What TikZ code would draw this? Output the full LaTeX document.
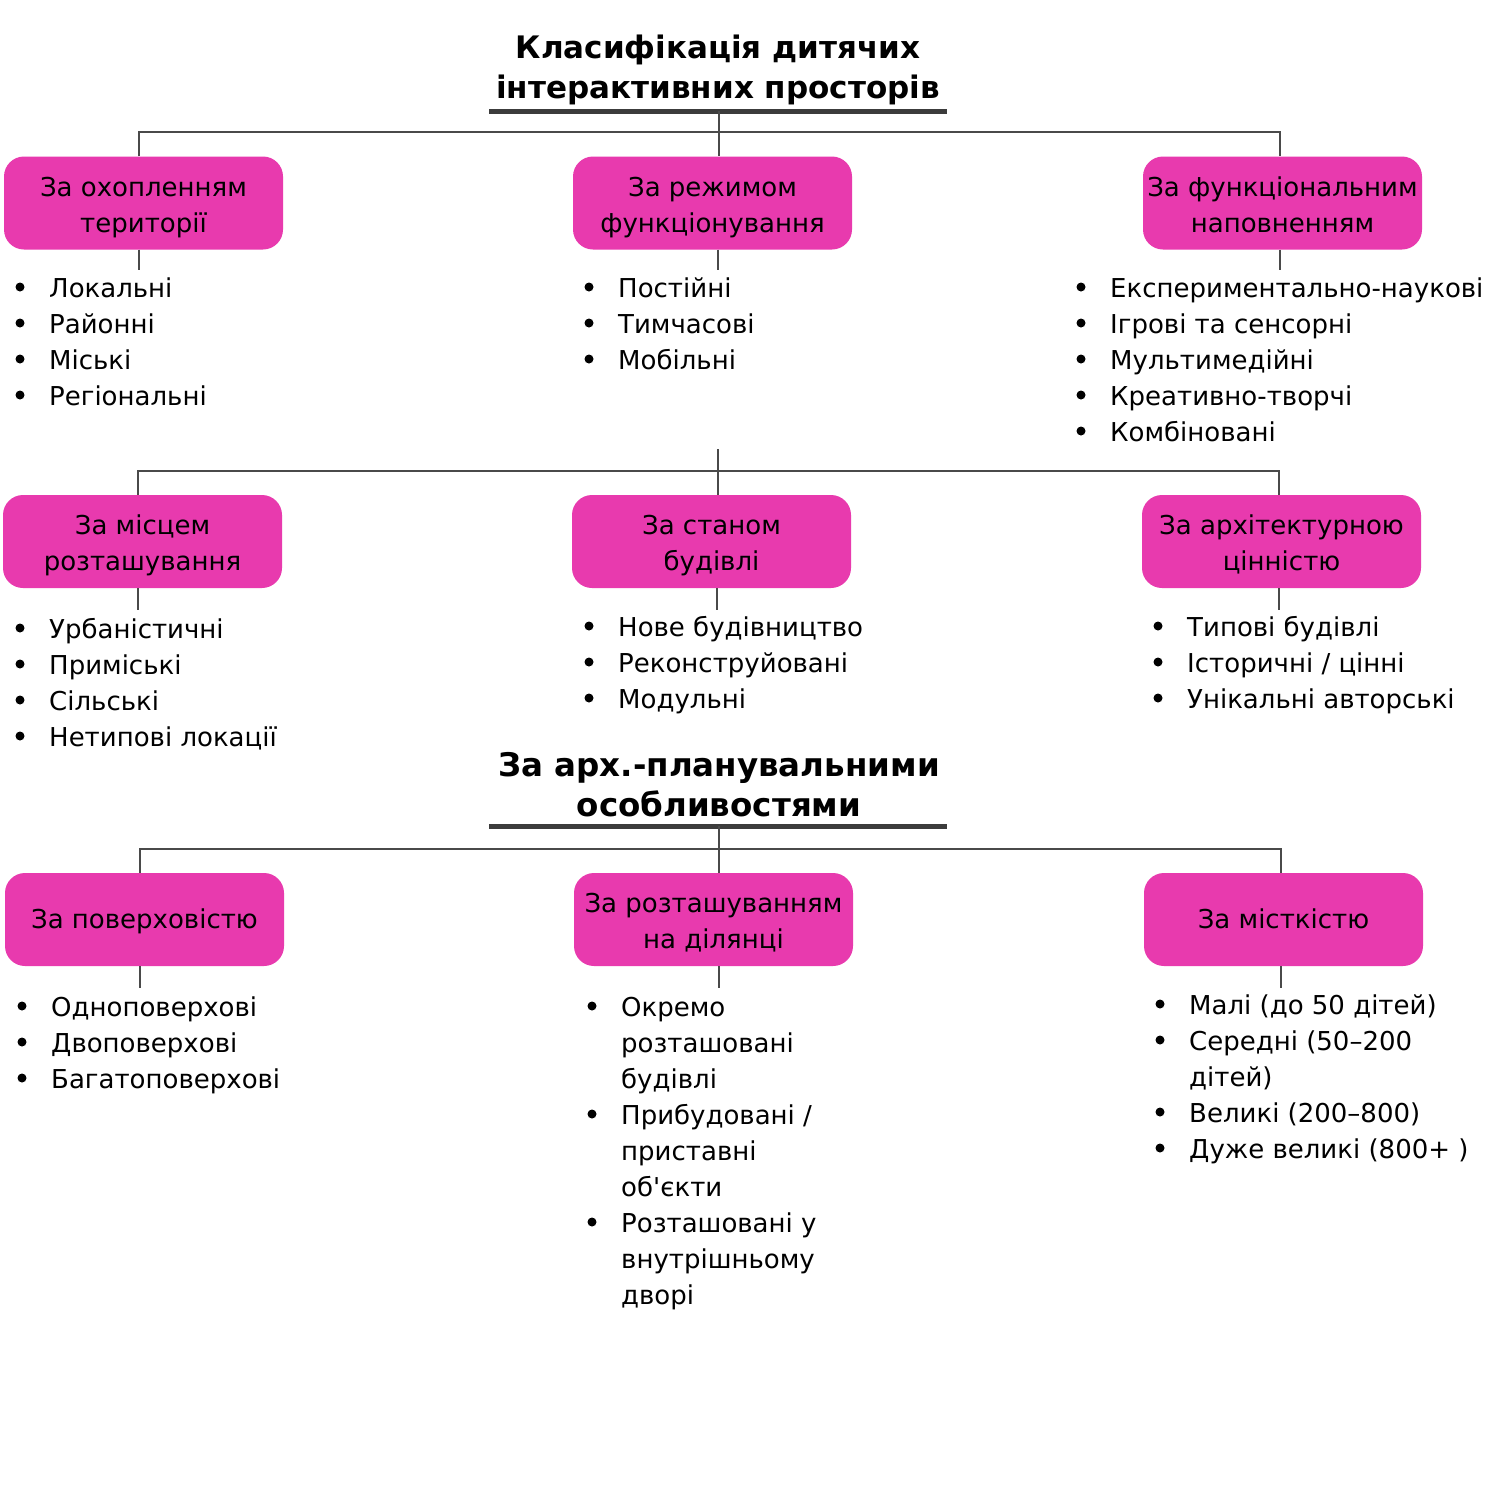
\documentclass[tikz,border=0pt]{standalone}
\usepackage{fontspec}
\setmainfont{DejaVu Sans}[Ligatures=TeXOff]
\definecolor{mag}{HTML}{E83AAE}
\definecolor{ln}{HTML}{4A4A4A}
\definecolor{ul}{HTML}{3C3C3C}
\tikzset{
  catbox/.style={draw=none, fill=mag, rounded corners=20pt, minimum width=279pt, minimum height=93pt,
    inner sep=0pt},
  boxtxt/.style={inner sep=0pt, align=center, text=black, font=\fontsize{26}{36}\selectfont},
  item/.style={anchor=base west, inner sep=0pt, font=\fontsize{26}{36}\selectfont, align=left},
  ttl/.style={align=center, inner sep=0pt, font=\bfseries\fontsize{31}{40}\selectfont},
  conn/.style={draw=ln, line width=2pt},
  uline/.style={draw=ul, line width=5pt},
  dot/.style={fill=black}
}
% item: x, y(centre of first line), number of lines, text
\newcommand{\itm}[4]{\fill[dot] (#1,#2) circle (4.5pt); \node[item] at (#1+29,#2+10+36*#3-36) {#4};}
% box: name, x, y, text shift, text
\newcommand{\mybox}[5]{\node[catbox] (#1) at (#2,#3) {}; \node[boxtxt] (#1t) at ([yshift=-#4pt]#1.center) {#5};}
\begin{document}
\begin{tikzpicture}[x=1pt,y=-1pt]
\useasboundingbox (0,0) rectangle (1507,1492);
\fill[white] (0,0) rectangle (1507,1492);

% ---------- Title 1
\node[ttl] (t1) at (718,70) {Класифікація дитячих\\інтерактивних просторів};
\coordinate (u1L) at (489,111);
\coordinate (u1R) at (947,111);
\coordinate (u1) at (719,111);
\draw[uline] (u1L) -- (u1R);

% row 1 boxes
\mybox{a1}{143.5}{203}{4}{\strut За охопленням\\території\strut}
\mybox{a2}{712.5}{203}{4}{\strut За режимом\\функціонування\strut}
\mybox{a3}{1282.5}{203}{4}{\strut За функціональним\\наповненням\strut}
\coordinate (h1L) at (139,132);
\coordinate (h1R) at (1280,132);
\coordinate (v1a) at (139,270);
\coordinate (v1b) at (718,270);
\coordinate (v1c) at (1280,270);
\draw[conn] (h1L |- a1.north) -- (h1L) -- (h1R) -- (h1R |- a3.north);
\draw[conn] (u1) -- (u1 |- a2.north);
\draw[conn] (v1a |- a1.south) -- (v1a);
\draw[conn] (v1b |- a2.south) -- (v1b);
\draw[conn] (v1c |- a3.south) -- (v1c);

\itm{20}{287}{1}{Локальні}
\itm{20}{323}{1}{Районні}
\itm{20}{359}{1}{Міські}
\itm{20}{395}{1}{Регіональні}

\itm{589}{287}{1}{Постійні}
\itm{589}{323}{1}{Тимчасові}
\itm{589}{359}{1}{Мобільні}

\itm{1081}{287}{1}{Експериментально-наукові}
\itm{1081}{323}{1}{Ігрові та сенсорні}
\itm{1081}{359}{1}{Мультимедійні}
\itm{1081}{395}{1}{Креативно-творчі}
\itm{1081}{431}{1}{Комбіновані}

% ---------- row 2
\mybox{b1}{142.5}{541.5}{4}{\strut За місцем\\розташування\strut}
\mybox{b2}{711.5}{541.5}{4}{\strut За станом\\будівлі\strut}
\mybox{b3}{1281.5}{541.5}{4}{\strut За архітектурною\\цінністю\strut}
\coordinate (s2) at (718,449);
\coordinate (h2L) at (138,471);
\coordinate (h2R) at (1279,471);
\coordinate (v2a) at (138,610);
\coordinate (v2b) at (717,610);
\coordinate (v2c) at (1279,610);
\draw[conn] (h2L |- b1.north) -- (h2L) -- (h2R) -- (h2R |- b3.north);
\draw[conn] (s2) -- (s2 |- b2.north);
\draw[conn] (v2a |- b1.south) -- (v2a);
\draw[conn] (v2b |- b2.south) -- (v2b);
\draw[conn] (v2c |- b3.south) -- (v2c);

\itm{20}{628}{1}{Урбаністичні}
\itm{20}{664}{1}{Приміські}
\itm{20}{700}{1}{Сільські}
\itm{20}{736}{1}{Нетипові локації}

\itm{589}{626}{1}{Нове будівництво}
\itm{589}{662}{1}{Реконструйовані}
\itm{589}{698}{1}{Модульні}

\itm{1158}{626}{1}{Типові будівлі}
\itm{1158}{662}{1}{Історичні / цінні}
\itm{1158}{698}{1}{Унікальні авторські}

% ---------- Title 2
\node[ttl, font=\bfseries\fontsize{32.5}{40}\selectfont] (t2) at (719,785) {За арх.-планувальними\\особливостями};
\coordinate (u2L) at (489,826);
\coordinate (u2R) at (947,826);
\coordinate (u2) at (719,826);
\draw[uline] (u2L) -- (u2R);

% row 3
\mybox{c1}{144.5}{919.5}{2}{\strut За поверховістю}
\mybox{c2}{713.5}{919.5}{4}{\strut За розташуванням\\на ділянці\strut}
\mybox{c3}{1283.5}{919.5}{2}{\strut За місткістю}
\coordinate (h3L) at (140,849);
\coordinate (h3R) at (1281,849);
\coordinate (v3a) at (140,988);
\coordinate (v3b) at (719,988);
\coordinate (v3c) at (1281,988);
\draw[conn] (h3L |- c1.north) -- (h3L) -- (h3R) -- (h3R |- c3.north);
\draw[conn] (u2) -- (u2 |- c2.north);
\draw[conn] (v3a |- c1.south) -- (v3a);
\draw[conn] (v3b |- c2.south) -- (v3b);
\draw[conn] (v3c |- c3.south) -- (v3c);

\itm{22}{1006}{1}{Одноповерхові}
\itm{22}{1042}{1}{Двоповерхові}
\itm{22}{1078}{1}{Багатоповерхові}

\itm{592}{1006}{3}{Окремо\\розташовані\\будівлі}
\itm{592}{1114}{3}{Прибудовані /\\приставні\\об'єкти}
\itm{592}{1222}{3}{Розташовані у\\внутрішньому\\дворі}

\itm{1160}{1004}{1}{Малі (до 50 дітей)}
\itm{1160}{1040}{2}{Середні (50–200\\дітей)}
\itm{1160}{1112}{1}{Великі (200–800)}
\itm{1160}{1148}{1}{Дуже великі (800+ )}
\end{tikzpicture}
\end{document}
